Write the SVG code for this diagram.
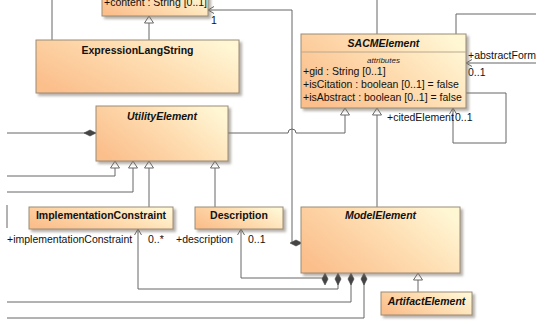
<svg xmlns="http://www.w3.org/2000/svg" width="536" height="321" viewBox="0 0 536 321">
  <defs>
    <linearGradient id="boxFill" x1="0" y1="0.75" x2="1" y2="0.25">
      <stop offset="0" stop-color="#fbbf8c"/>
      <stop offset="0.55" stop-color="#fedcb0"/>
      <stop offset="1" stop-color="#fff6d4"/>
    </linearGradient>
    <filter id="shadow" x="-10%" y="-10%" width="130%" height="140%">
      <feDropShadow dx="2.5" dy="2.5" stdDeviation="0.8" flood-color="#7a7066" flood-opacity="0.55"/>
    </filter>
    <!-- generalization: hollow triangle -->
    <marker id="gen" viewBox="-8 -5 9 10" refX="0" refY="0" markerWidth="9" markerHeight="10" markerUnits="userSpaceOnUse" orient="auto">
      <path d="M0,0 L-7,-4.5 L-7,4.5 Z" fill="#fff" stroke="#666" stroke-width="1"/>
    </marker>
    <!-- navigable end: open arrow -->
    <marker id="open" viewBox="-8 -5 9 10" refX="0" refY="0" markerWidth="9" markerHeight="10" markerUnits="userSpaceOnUse" orient="auto-start-reverse">
      <path d="M-6,-3.5 L0,0 L-6,3.5" fill="none" stroke="#666" stroke-width="1"/>
    </marker>
    <!-- composition: filled diamond -->
    <marker id="comp" viewBox="-13 -4 14 8" refX="0" refY="0" markerWidth="14" markerHeight="8" markerUnits="userSpaceOnUse" orient="auto">
      <path d="M0,0 L-6,-3 L-12,0 L-6,3 Z" fill="#444" stroke="#444" stroke-width="0.6"/>
    </marker>
  </defs>
  <style>
    .box { fill: url(#boxFill); stroke: #9a8b76; stroke-width: 1; filter: url(#shadow); }
    .sep { stroke: #b9a88f; stroke-width: 1; }
    .title { font-family: "Liberation Sans", Arial, sans-serif; font-size: 10.5px; font-weight: bold; fill: #111; text-anchor: middle; }
    .abstract { font-style: italic; }
    .small { font-family: "Liberation Sans", Arial, sans-serif; font-size: 8px; font-style: italic; fill: #222; text-anchor: middle; }
    .attr { font-family: "Liberation Sans", Arial, sans-serif; font-size: 10.5px; fill: #111; }
    .lbl { font-family: "Liberation Sans", Arial, sans-serif; font-size: 10.5px; fill: #111; }
    .conn path { fill: none; stroke: #666; stroke-width: 1; }
  </style>

  <rect width="536" height="321" fill="#ffffff"/>

  <!-- connectors -->
  <g id="connectors" class="conn">
    <path d="M52,40 V0"/>
    <path d="M149,40 V16" marker-end="url(#gen)"/>
    <path d="M208,10 H292 V243 H302" marker-start="url(#open)" marker-end="url(#comp)"/>
    <path d="M7,133 H96" marker-end="url(#comp)"/>
    <path d="M228,133 H288 A4,4 0 0 1 296,133 H345 V108" marker-end="url(#gen)"/>
    <path d="M7,176 H115 V161" marker-end="url(#gen)"/>
    <path d="M7,192 H133 V161" marker-end="url(#gen)"/>
    <path d="M149,207 V161" marker-end="url(#gen)"/>
    <path d="M215,207 V161" marker-end="url(#gen)"/>
    <path d="M7,205 V228"/>
    <path d="M138,229 V289 H338 V273" marker-start="url(#open)" marker-end="url(#comp)"/>
    <path d="M241,229 V278 H325 V273" marker-start="url(#open)" marker-end="url(#comp)"/>
    <path d="M7,302 H351 V273" marker-end="url(#comp)"/>
    <path d="M7,318 H364 V273" marker-end="url(#comp)"/>
    <path d="M418,292 V273" marker-end="url(#gen)"/>
    <path d="M377,207 V108" marker-end="url(#gen)"/>
    <path d="M377,0 V34"/>
    <path d="M456,34 V14 H536"/>
    <path d="M536,63 H466" marker-end="url(#open)"/>
    <path d="M466,93 H506 V143 H453 V108" marker-end="url(#open)"/>
  </g>

  <!-- association end labels -->
  <g id="labels">
    <text class="lbl" x="211" y="24">1</text>
    <text class="lbl" x="468" y="59">+abstractForm</text>
    <text class="lbl" x="468" y="76">0..1</text>
    <text class="lbl" x="387" y="121">+citedElement</text>
    <text class="lbl" x="455" y="121">0..1</text>
    <text class="lbl" x="7" y="243">+implementationConstraint</text>
    <text class="lbl" x="148" y="243">0..*</text>
    <text class="lbl" x="176" y="243">+description</text>
    <text class="lbl" x="248" y="243">0..1</text>
  </g>

  <g id="LangString">
    <rect class="box" x="102" y="-8" width="106" height="24"/>
    <text class="attr" x="104" y="5.5">+content : String [0..1]</text>
  </g>

  <g id="ExpressionLangString">
    <rect class="box" x="36" y="40" width="203" height="53"/>
    <text class="title" x="137.5" y="54">ExpressionLangString</text>
  </g>

  <g id="UtilityElement">
    <rect class="box" x="96" y="106" width="132" height="55"/>
    <text class="title abstract" x="162" y="120">UtilityElement</text>
  </g>

  <g id="SACMElement">
    <rect class="box" x="301" y="34" width="165" height="74"/>
    <text class="title abstract" x="383.5" y="47">SACMElement</text>
    <line class="sep" x1="301" y1="52" x2="466" y2="52"/>
    <text class="small" x="383.5" y="63">attributes</text>
    <text class="attr" x="303" y="75">+gid : String [0..1]</text>
    <text class="attr" x="303" y="88">+isCitation : boolean [0..1] = false</text>
    <text class="attr" x="303" y="101">+isAbstract : boolean [0..1] = false</text>
  </g>

  <g id="ImplementationConstraint">
    <rect class="box" x="29" y="207" width="144" height="22"/>
    <text class="title" x="101" y="219">ImplementationConstraint</text>
  </g>

  <g id="Description">
    <rect class="box" x="195" y="207" width="88" height="22"/>
    <text class="title" x="239" y="219">Description</text>
  </g>

  <g id="ModelElement">
    <rect class="box" x="301" y="207" width="159" height="66"/>
    <text class="title abstract" x="380.5" y="219">ModelElement</text>
  </g>

  <g id="ArtifactElement">
    <rect class="box" x="381" y="292" width="91" height="23"/>
    <text class="title abstract" x="426.5" y="305">ArtifactElement</text>
  </g>
</svg>
